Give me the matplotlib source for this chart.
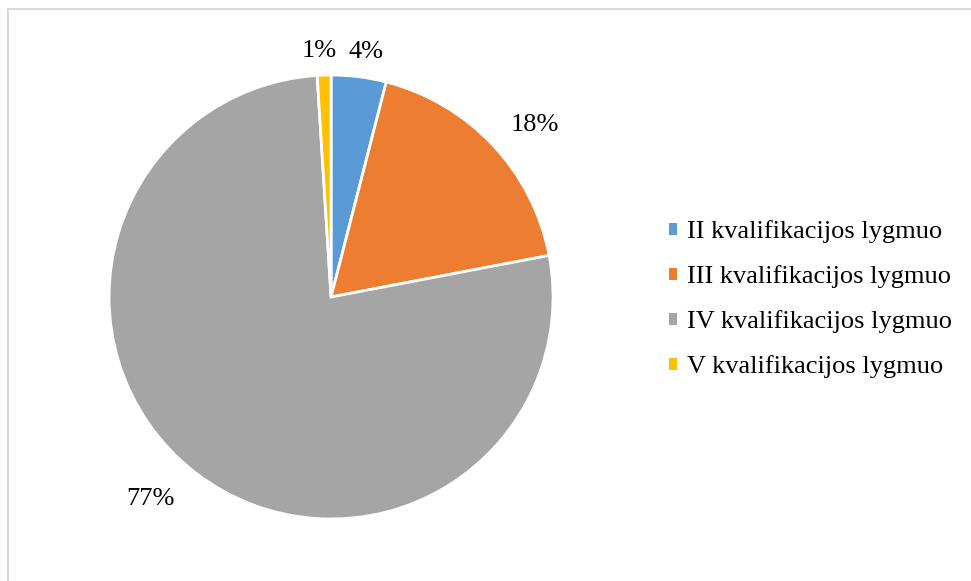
import matplotlib
matplotlib.use('Agg')
import matplotlib.pyplot as plt
from matplotlib.patches import Patch, Rectangle
import numpy as np

plt.rcParams['font.family'] = ['Liberation Serif', 'DejaVu Serif']

# Duomenys
labels = ['II kvalifikacijos lygmuo', 'III kvalifikacijos lygmuo',
          'IV kvalifikacijos lygmuo', 'V kvalifikacijos lygmuo']
shares = [4, 18, 77, 1]
colors = ['#5B9BD5', '#ED7D31', '#A5A5A5', '#FFC000']

fig = plt.figure(figsize=(9.71, 5.81), dpi=100)

# remelis
fig.patches.append(Rectangle((8 / 971, -0.05), 1.1, 1 - 9 / 581 + 0.05,
                             transform=fig.transFigure, fill=False,
                             edgecolor='#D9D9D9', linewidth=1.5))

ax = fig.add_axes([0.1123, 0.1067, 0.4573, 0.7642])
wedges, _ = ax.pie(shares, colors=colors, startangle=90, counterclock=False,
                   wedgeprops={'edgecolor': 'white', 'linewidth': 2})
ax.set_xlim(-1, 1)
ax.set_ylim(-1, 1)
ax.axis('off')

# procentu uzrasai
dist = [1.115, 1.2, 1.22, 1.11]
shift = [-1, -3, -4, 1]
for w, v, d, s in zip(wedges, shares, dist, shift):
    ang = np.deg2rad((w.theta1 + w.theta2) / 2 + s)
    ax.text(d * np.cos(ang), d * np.sin(ang), f'{v}%', ha='center', va='center',
            fontsize=19)

handles = [Patch(facecolor=c, edgecolor='none') for c in colors]
fig.legend(handles, labels, loc='center left', bbox_to_anchor=(669 / 971, 0.485),
           frameon=False, fontsize=19, handlelength=0.32, handleheight=0.32,
           handletextpad=0.38, labelspacing=0.83, borderpad=0, borderaxespad=0)

plt.savefig('out.png', dpi=100)
